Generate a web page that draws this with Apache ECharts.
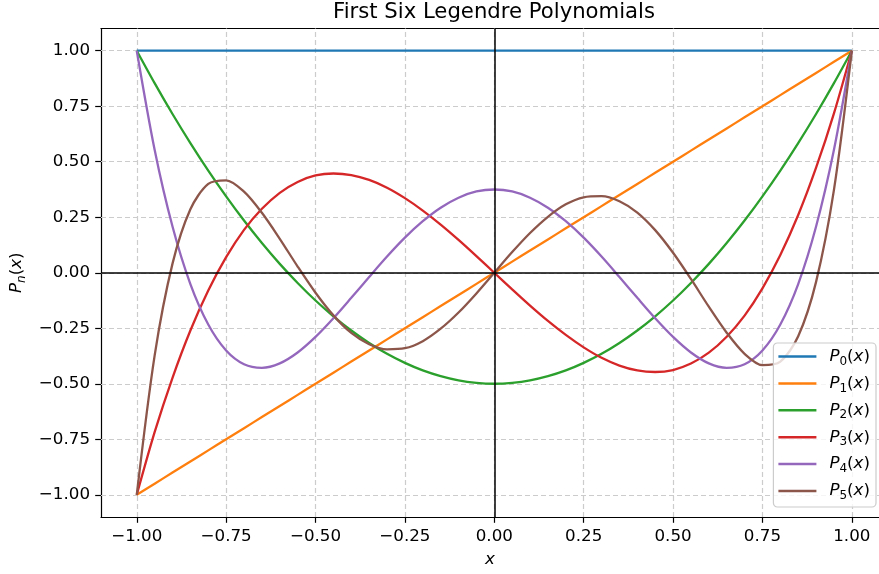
<!DOCTYPE html>
<html><head><meta charset="utf-8">
<script src="https://cdn.jsdelivr.net/npm/echarts@6/dist/echarts.min.js"></script>
<style>html,body{margin:0;padding:0;background:#fff}#c{width:879px;height:574px}</style>
</head><body><div id="c"></div>
<script>
const xs = [-1,-0.95,-0.9,-0.85,-0.8,-0.75,-0.7,-0.65,-0.6,-0.55,-0.5,-0.45,-0.4,-0.35,-0.3,-0.25,-0.2,-0.15,-0.1,-0.05,0,0.05,0.1,0.15,0.2,0.25,0.3,0.35,0.4,0.45,0.5,0.55,0.6,0.65,0.7,0.75,0.8,0.85,0.9,0.95,1];
const p0 = [1,1,1,1,1,1,1,1,1,1,1,1,1,1,1,1,1,1,1,1,1,1,1,1,1,1,1,1,1,1,1,1,1,1,1,1,1,1,1,1,1];
const p1 = [-1,-0.95,-0.9,-0.85,-0.8,-0.75,-0.7,-0.65,-0.6,-0.55,-0.5,-0.45,-0.4,-0.35,-0.3,-0.25,-0.2,-0.15,-0.1,-0.05,0,0.05,0.1,0.15,0.2,0.25,0.3,0.35,0.4,0.45,0.5,0.55,0.6,0.65,0.7,0.75,0.8,0.85,0.9,0.95,1];
const p2 = [1,0.854,0.715,0.584,0.46,0.344,0.235,0.134,0.04,-0.046,-0.125,-0.196,-0.26,-0.316,-0.365,-0.406,-0.44,-0.466,-0.485,-0.496,-0.5,-0.496,-0.485,-0.466,-0.44,-0.406,-0.365,-0.316,-0.26,-0.196,-0.125,-0.046,0.04,0.134,0.235,0.344,0.46,0.584,0.715,0.854,1];
const p3 = [-1,-0.718,-0.473,-0.26,-0.08,0.07,0.193,0.288,0.36,0.409,0.438,0.447,0.44,0.418,0.383,0.336,0.28,0.217,0.148,0.075,0,-0.075,-0.148,-0.217,-0.28,-0.336,-0.383,-0.418,-0.44,-0.447,-0.438,-0.409,-0.36,-0.288,-0.193,-0.07,0.08,0.26,0.473,0.718,1];
const p4 = [1,0.554,0.208,-0.051,-0.233,-0.35,-0.412,-0.428,-0.408,-0.359,-0.289,-0.205,-0.113,-0.019,0.073,0.158,0.232,0.293,0.338,0.366,0.375,0.366,0.338,0.293,0.232,0.158,0.073,-0.019,-0.113,-0.205,-0.289,-0.359,-0.408,-0.428,-0.412,-0.35,-0.233,-0.051,0.208,0.554,1];
const p5 = [-1,-0.373,0.041,0.286,0.4,0.416,0.365,0.27,0.153,0.028,-0.09,-0.192,-0.271,-0.322,-0.345,-0.34,-0.308,-0.252,-0.179,-0.093,0,0.093,0.179,0.252,0.308,0.34,0.345,0.322,0.271,0.192,0.09,-0.028,-0.153,-0.27,-0.365,-0.416,-0.4,-0.286,-0.041,0.373,1];
const seriesNames = ['P0','P1','P2','P3','P4','P5'];
const seriesValues = [p0,p1,p2,p3,p4,p5];
const colors = ['#1f77b4','#ff7f0e','#2ca02c','#d62728','#9467bd','#8c564b'];
const xTicks = [-1,-0.75,-0.5,-0.25,0,0.25,0.5,0.75,1];
const yTicks = [-1,-0.75,-0.5,-0.25,0,0.25,0.5,0.75,1];
const titleText = 'First Six Legendre Polynomials';

const FONT = 'DejaVu Sans';
const FS = 16.7;
const LH = 22;
const XMIN = -1.1, XMAX = 1.076;  // right part of the axes is cut by the figure edge
const fmt = v => (v < 0 ? '\u2212' : '') + Math.abs(v).toFixed(2);
const rich = {
  i: {fontFamily: FONT, fontStyle: 'italic', fontSize: FS, lineHeight: LH, verticalAlign: 'middle', color: '#000'},
  n: {fontFamily: FONT, fontSize: FS, lineHeight: LH, verticalAlign: 'middle', color: '#000'},
  s: {fontFamily: FONT, fontSize: 12, lineHeight: LH, verticalAlign: 'bottom', color: '#000'},
  si: {fontFamily: FONT, fontStyle: 'italic', fontSize: 12, lineHeight: LH, verticalAlign: 'bottom', color: '#000'},
  ip: {fontFamily: FONT, fontStyle: 'italic', fontSize: FS, lineHeight: LH, verticalAlign: 'middle', color: '#000', padding: [0,0,0,8]}
};
const lineSeries = seriesNames.map((nm, k) => ({
  name: nm, type: 'line', symbol: 'none', showSymbol: false, smooth: 0.3, z: 3,
  lineStyle: {width: 2.3, color: colors[k]}, itemStyle: {color: colors[k]},
  data: xs.map((x, i) => [x, seriesValues[k][i]])
}));
const gridSeries = {
  name: 'grid', type: 'line', data: [[0, 0]], symbol: 'none', lineStyle: {opacity: 0}, z: 1, silent: true,
  markLine: {z: 1, silent: true, symbol: 'none', animation: false, label: {show: false},
    lineStyle: {color: '#cccccc', width: 1.2, type: [5, 3]},
    data: xTicks.map(v => ({xAxis: v})).concat(yTicks.map(v => ({yAxis: v})))}
};
const zeroSeries = {
  name: 'zero', type: 'line', data: [[0, 0]], symbol: 'none', lineStyle: {opacity: 0}, z: 4, silent: true,
  markLine: {z: 5, silent: true, symbol: 'none', animation: false, label: {show: false},
    lineStyle: {color: '#000', width: 1.5, type: 'solid'},
    data: [{xAxis: 0}, {yAxis: 0}]}
};
const chart = echarts.init(document.getElementById('c'), null, {renderer: 'canvas'});
chart.setOption({
  animation: false,
  backgroundColor: '#fff',
  grid: {left: 101, right: 0, top: 28.5, bottom: 57, show: false, containLabel: false},
  graphic: [{type: 'text', x: 494, y: 12, z: 10,
    style: {text: titleText, font: '21.2px "DejaVu Sans"', fill: '#000', textAlign: 'center', textVerticalAlign: 'middle'}}],
  xAxis: [{type: 'value', min: XMIN, max: XMAX, position: 'bottom',
    name: 'x', nameLocation: 'middle', nameGap: 34,
    nameTextStyle: {fontFamily: FONT, fontStyle: 'italic', fontSize: FS, color: '#000'},
    axisLine: {show: true, onZero: false, lineStyle: {color: '#000', width: 1.2}},
    axisTick: {show: true, length: 5.8, customValues: xTicks, lineStyle: {color: '#000', width: 1.2}},
    axisLabel: {customValues: xTicks, formatter: fmt, fontFamily: FONT, fontSize: FS, color: '#000', margin: 11},
    splitLine: {show: false}},
   {type: 'value', min: XMIN, max: XMAX, position: 'top',
    axisLine: {show: true, onZero: false, lineStyle: {color: '#000', width: 1.2}},
    axisTick: {show: false}, axisLabel: {show: false}, splitLine: {show: false}}],
  yAxis: {type: 'value', min: -1.1, max: 1.1,
    name: '{i|P}{si|n}{n|(}{i|x}{n|)}', nameLocation: 'middle', nameGap: 73, nameRotate: 90,
    nameTextStyle: {rich: rich},
    axisLine: {show: true, onZero: false, lineStyle: {color: '#000', width: 1.2}},
    axisTick: {show: true, length: 5.8, customValues: yTicks, lineStyle: {color: '#000', width: 1.2}},
    axisLabel: {customValues: yTicks, formatter: fmt, fontFamily: FONT, fontSize: FS, color: '#000', margin: 11},
    splitLine: {show: false}},
  legend: {data: seriesNames, orient: 'vertical', right: 3, bottom: 67,
    backgroundColor: 'rgba(255,255,255,0.8)', borderColor: '#cccccc', borderWidth: 1.2, borderRadius: 4,
    padding: [5, 6, 5, 5], icon: 'rect', itemWidth: 38, itemHeight: 2.5, itemGap: 7.4,
    formatter: nm => '{ip|P}{s|' + nm.slice(1) + '}{n|(}{i|x}{n|)}',
    textStyle: {rich: rich}},
  series: [gridSeries].concat(lineSeries, [zeroSeries])
});
</script></body></html>
